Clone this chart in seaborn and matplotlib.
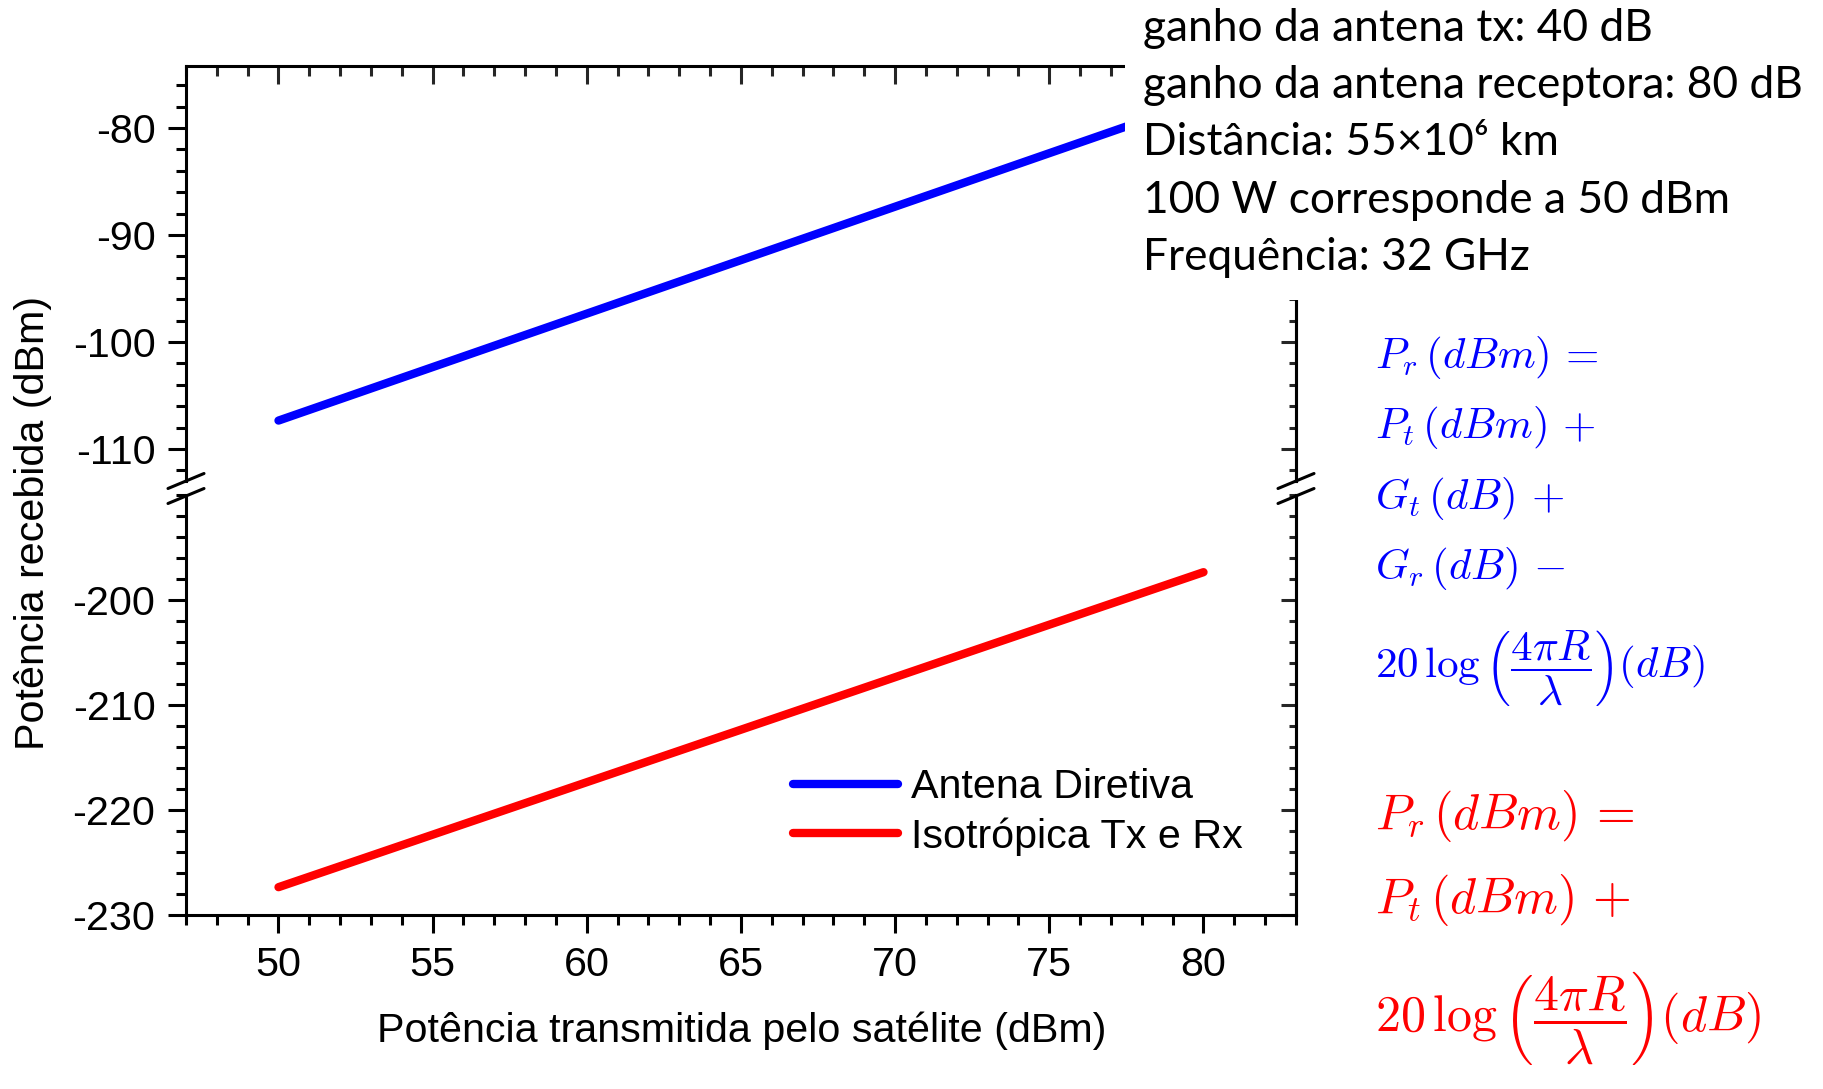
import matplotlib
matplotlib.use('Agg')
import matplotlib.pyplot as plt
from matplotlib.lines import Line2D
from matplotlib.patches import Rectangle
from matplotlib.ticker import MultipleLocator
import pandas as pd
import seaborn as sns

# potência transmitida pelo satélite (dBm)
pt = [50, 55, 60, 65, 70, 75, 80]
# potência recebida (dBm): antena diretiva (Gt = 40 dB, Gr = 80 dB)
pr_diretiva = [-107.35, -102.35, -97.35, -92.35, -87.35, -82.35, -77.35]
# potência recebida (dBm): isotrópica Tx e Rx
pr_isotropica = [-227.35, -222.35, -217.35, -212.35, -207.35, -202.35, -197.35]

series = ['Antena Diretiva', 'Isotrópica Tx e Rx']
colors = ['blue', 'red']

x_ticks = [50, 55, 60, 65, 70, 75, 80]
y_ticks_top = [-110, -100, -90, -80]
y_ticks_bot = [-230, -220, -210, -200]

info_lines = [
    'ganho da antena tx: 40 dB',
    'ganho da antena receptora: 80 dB',
    'Distância: 55×10⁶ km',
    '100 W corresponde a 50 dBm',
    'Frequência: 32 GHz',
]
eq_blue = [
    r'$P_r\,(dBm)\,=$',
    r'$P_t\,(dBm)\,+$',
    r'$G_t\,(dB)\,+$',
    r'$G_r\,(dB)\,-$',
    r'$20\,\log\left(\dfrac{4\pi R}{\lambda}\right)(dB)$',
]
eq_red = [
    r'$P_r\,(dBm)\,=$',
    r'$P_t\,(dBm)\,+$',
    r'$20\,\log\left(\dfrac{4\pi R}{\lambda}\right)(dB)$',
]

sns.set_theme(style='ticks')
plt.rcParams['font.family'] = ['Liberation Sans', 'DejaVu Sans']
plt.rcParams['axes.unicode_minus'] = False
plt.rcParams['mathtext.fontset'] = 'cm'
plt.rcParams['text.color'] = 'black'
plt.rcParams['axes.edgecolor'] = 'black'

W, H = 1823, 1089
FS = 29.7
LW = 6


def fx(px):
    return px / W


def fy(py):
    return 1 - py / H


fig = plt.figure(figsize=(W / 100, H / 100), dpi=100)
left, right = 186, 1296
ax_top = fig.add_axes([fx(left), fy(481), fx(right) - fx(left), fy(66) - fy(481)])
ax_bot = fig.add_axes([fx(left), fy(915), fx(right) - fx(left), fy(495) - fy(915)])

df = pd.DataFrame({
    'pt': pt + pt,
    'pr': pr_diretiva + pr_isotropica,
    'serie': [series[0]] * len(pt) + [series[1]] * len(pt),
})
palette = dict(zip(series, colors))

for ax in (ax_top, ax_bot):
    sns.lineplot(data=df, x='pt', y='pr', hue='serie', palette=palette,
                 linewidth=LW, solid_capstyle='round', legend=False, ax=ax)
    ax.set_xlim(47, 83)
    ax.set_xlabel('')
    ax.set_ylabel('')
    ax.xaxis.set_minor_locator(MultipleLocator(1))
    ax.yaxis.set_minor_locator(MultipleLocator(2))
    for s in ax.spines.values():
        s.set_linewidth(2.2)
    ax.tick_params(axis='y', which='both', direction='out', right=False,
                   labelsize=FS, width=2.2, pad=9, colors='black')
    ax.tick_params(axis='y', which='major', length=13)
    ax.tick_params(axis='y', which='minor', length=7)
    sec = ax.secondary_yaxis('right')
    sec.spines['right'].set_linewidth(2.2)
    sec.yaxis.set_minor_locator(MultipleLocator(2))
    sec.tick_params(which='both', direction='in', labelright=False, width=2.2)
    sec.tick_params(which='major', length=11)
    sec.tick_params(which='minor', length=5)
    ax._sec = sec

ax_top.set_ylim(-113, -74.2)
ax_top.set_yticks(y_ticks_top)
ax_top._sec.set_yticks(y_ticks_top)
ax_top.set_xticks(x_ticks)
ax_top.spines['bottom'].set_visible(False)
ax_top.tick_params(axis='x', which='both', bottom=False, top=True,
                   labelbottom=False, direction='in', width=2.2)
ax_top.tick_params(axis='x', which='major', length=13)
ax_top.tick_params(axis='x', which='minor', length=7)

ax_bot.set_ylim(-230, -190)
ax_bot.set_yticks(y_ticks_bot)
ax_bot._sec.set_yticks(y_ticks_bot)
ax_bot.set_xticks(x_ticks)
ax_bot.spines['top'].set_visible(False)
ax_bot.tick_params(axis='x', which='both', bottom=True, top=False,
                   direction='out', width=2.2, labelsize=FS, pad=9, colors='black')
ax_bot.tick_params(axis='x', which='major', length=13)
ax_bot.tick_params(axis='x', which='minor', length=7)

# break marks on both sides
for xc in (left, right):
    for yc in (481, 496):
        fig.add_artist(Line2D([fx(xc - 18), fx(xc + 18)], [fy(yc + 7.5), fy(yc - 7.5)],
                              transform=fig.transFigure, color='black', lw=2.2))

handles = [Line2D([], [], color=c, lw=LW, solid_capstyle='round') for c in colors]
ax_bot.legend(handles, series, loc='upper left', bbox_to_anchor=(fx(793), fy(768)),
              bbox_transform=fig.transFigure, frameon=False, borderpad=0,
              borderaxespad=0, handlelength=2.55, handletextpad=0.3,
              labelspacing=0.27, fontsize=FS)

fig.text(fx(33), fy(523), 'Potência recebida (dBm)', rotation=90,
         ha='center', va='center', fontsize=FS)
fig.text(fx(742), fy(1031), 'Potência transmitida pelo satélite (dBm)',
         ha='center', va='center', fontsize=FS)

# white box behind the parameters text
fig.add_artist(Rectangle((fx(1125), fy(300)), 1 - fx(1125), 1 - fy(300),
                         transform=fig.transFigure, facecolor='white',
                         edgecolor='none', zorder=2))
info_base = [41, 98, 155, 213, 270]
info_texts = [fig.text(fx(1143), fy(b), s, ha='left', va='baseline', fontsize=28,
                       family=['Lato', 'DejaVu Sans'], zorder=3)
              for s, b in zip(info_lines, info_base)]
fig.canvas.draw()
w = info_texts[1].get_window_extent().width
for t in info_texts:
    t.set_fontsize(28 * 659 / w)

blue_base = [368, 438, 509, 579, 678]
for s, b in zip(eq_blue, blue_base):
    fig.text(fx(1375), fy(b), s, color='blue', ha='left', va='baseline', fontsize=31)
red_base = [829, 913, 1032]
for s, b in zip(eq_red, red_base):
    fig.text(fx(1375), fy(b), s, color='red', ha='left', va='baseline', fontsize=36)

fig.savefig('out.png', dpi=100, facecolor='white')
